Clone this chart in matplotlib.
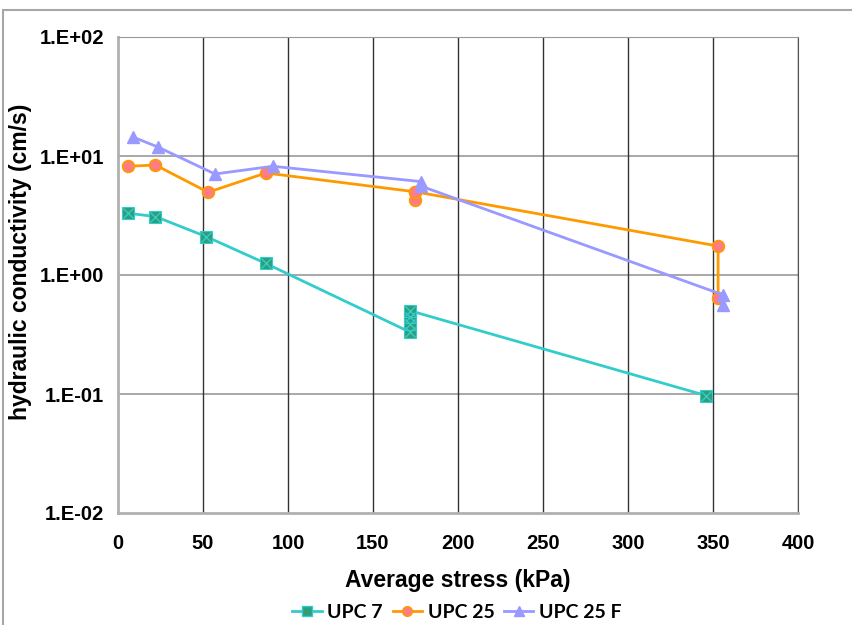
import numpy as np
import matplotlib.pyplot as plt
from matplotlib.lines import Line2D
from matplotlib.patches import Rectangle
from matplotlib.ticker import FixedLocator, FixedFormatter

# Series (average stress in kPa, conductivity in cm/s)
upc7_x = [6, 22, 52, 87, 172, 172, 172, 172, 346]
upc7_y = [3.3, 3.1, 2.1, 1.25, 0.33, 0.39, 0.44, 0.50, 0.097]

upc25_x = [6, 22, 53, 87, 175, 175, 175, 353, 353]
upc25_y = [8.2, 8.4, 4.96, 7.2, 5.0, 4.3, 5.0, 1.75, 0.64]

upc25f_x = [9, 23.5, 57, 91, 178, 178, 356, 356]
upc25f_y = [14.4, 11.9, 7.06, 8.2, 6.1, 5.6, 0.68, 0.56]

x_ticks = [0, 50, 100, 150, 200, 250, 300, 350, 400]
y_ticks = [1e-2, 1e-1, 1e0, 1e1, 1e2]
y_tick_labels = ['1.E-02', '1.E-01', '1.E+00', '1.E+01', '1.E+02']

fig = plt.figure(figsize=(8.53, 6.25), dpi=100)
# grey frame of the embedded chart
fig.patches.append(Rectangle((3 / 853, -0.05), 1.2, 1 - 10 / 625 + 0.05, transform=fig.transFigure,
                             fill=False, edgecolor='#a6a6a6', lw=1.5))

ax = fig.add_axes([118 / 853, 1 - 513 / 625, 680 / 853, 476 / 625])
ax.set_yscale('log')
ax.set_xlim(0, 400)
ax.set_ylim(1e-2, 1e2)

# gridlines: grey horizontals, dark verticals
for yv in y_ticks[1:-1]:
    ax.axhline(yv, color='#999999', lw=1.2, zorder=1)
for xv in x_ticks[1:]:
    ax.axvline(xv, color='#333333', lw=1.0, zorder=1)
for side in ['left', 'bottom']:
    ax.spines[side].set_color('#b0b0b0')
    ax.spines[side].set_linewidth(2)
ax.spines['top'].set_color('#999999')
ax.spines['right'].set_color('#555555')

# UPC 7: turquoise line, green square markers with a cross
ax.plot(upc7_x, upc7_y, color='#33cccc', lw=2, marker='s', ms=8,
        mfc='#2e9e78', mec='#33cccc', mew=0.8, zorder=3)
ax.plot(upc7_x, upc7_y, ls='none', marker='x', ms=6.5, mec='#33cccc', mew=1, zorder=4)
ax.plot(upc25_x, upc25_y, color='#ff9900', lw=2, marker='o', ms=8.5,
        mfc='#ff7c80', mec='#ff9900', mew=1.2, zorder=3)
ax.plot(upc25f_x, upc25f_y, color='#9999ff', lw=2, marker='^', ms=9,
        mfc='#9999ff', mec='#9999ff', zorder=3)

ax.xaxis.set_major_locator(FixedLocator(x_ticks))
ax.yaxis.set_major_locator(FixedLocator(y_ticks))
ax.yaxis.set_major_formatter(FixedFormatter(y_tick_labels))
ax.yaxis.set_minor_locator(FixedLocator([]))
ax.tick_params(axis='x', length=0, labelsize=14.5, pad=15)
ax.tick_params(axis='y', length=0, labelsize=14.5, pad=10)
for lab in ax.get_xticklabels() + ax.get_yticklabels():
    lab.set_fontfamily('Liberation Sans')
    lab.set_fontweight('bold')

ax.set_xlabel('Average stress (kPa)', fontsize=16.5, fontweight='bold',
              fontfamily='Liberation Sans', labelpad=12)
ax.set_ylabel('hydraulic conductivity (cm/s)', fontsize=16.5, fontweight='bold',
              fontfamily='Liberation Sans')
ax.yaxis.set_label_coords(-86 / 680, (513 - 262) / 476)

handles = [
    Line2D([], [], color='#33cccc', lw=2, marker='s', ms=7, mfc='#2e9e78', mec='#33cccc'),
    Line2D([], [], color='#ff9900', lw=2, marker='o', ms=7, mfc='#ff7c80', mec='#ff9900'),
    Line2D([], [], color='#9999ff', lw=2, marker='^', ms=7, mfc='#9999ff', mec='#9999ff'),
]
fig.legend(handles, ['UPC 7', 'UPC 25', 'UPC 25 F'], loc='center', bbox_to_anchor=(457 / 853, 1 - 612 / 625),
           ncol=3, frameon=False, handlelength=1.5, columnspacing=0.5, handletextpad=0.3,
           prop={'family': 'Lato', 'weight': 'bold', 'size': 14})

fig.savefig('out.png', dpi=100)
